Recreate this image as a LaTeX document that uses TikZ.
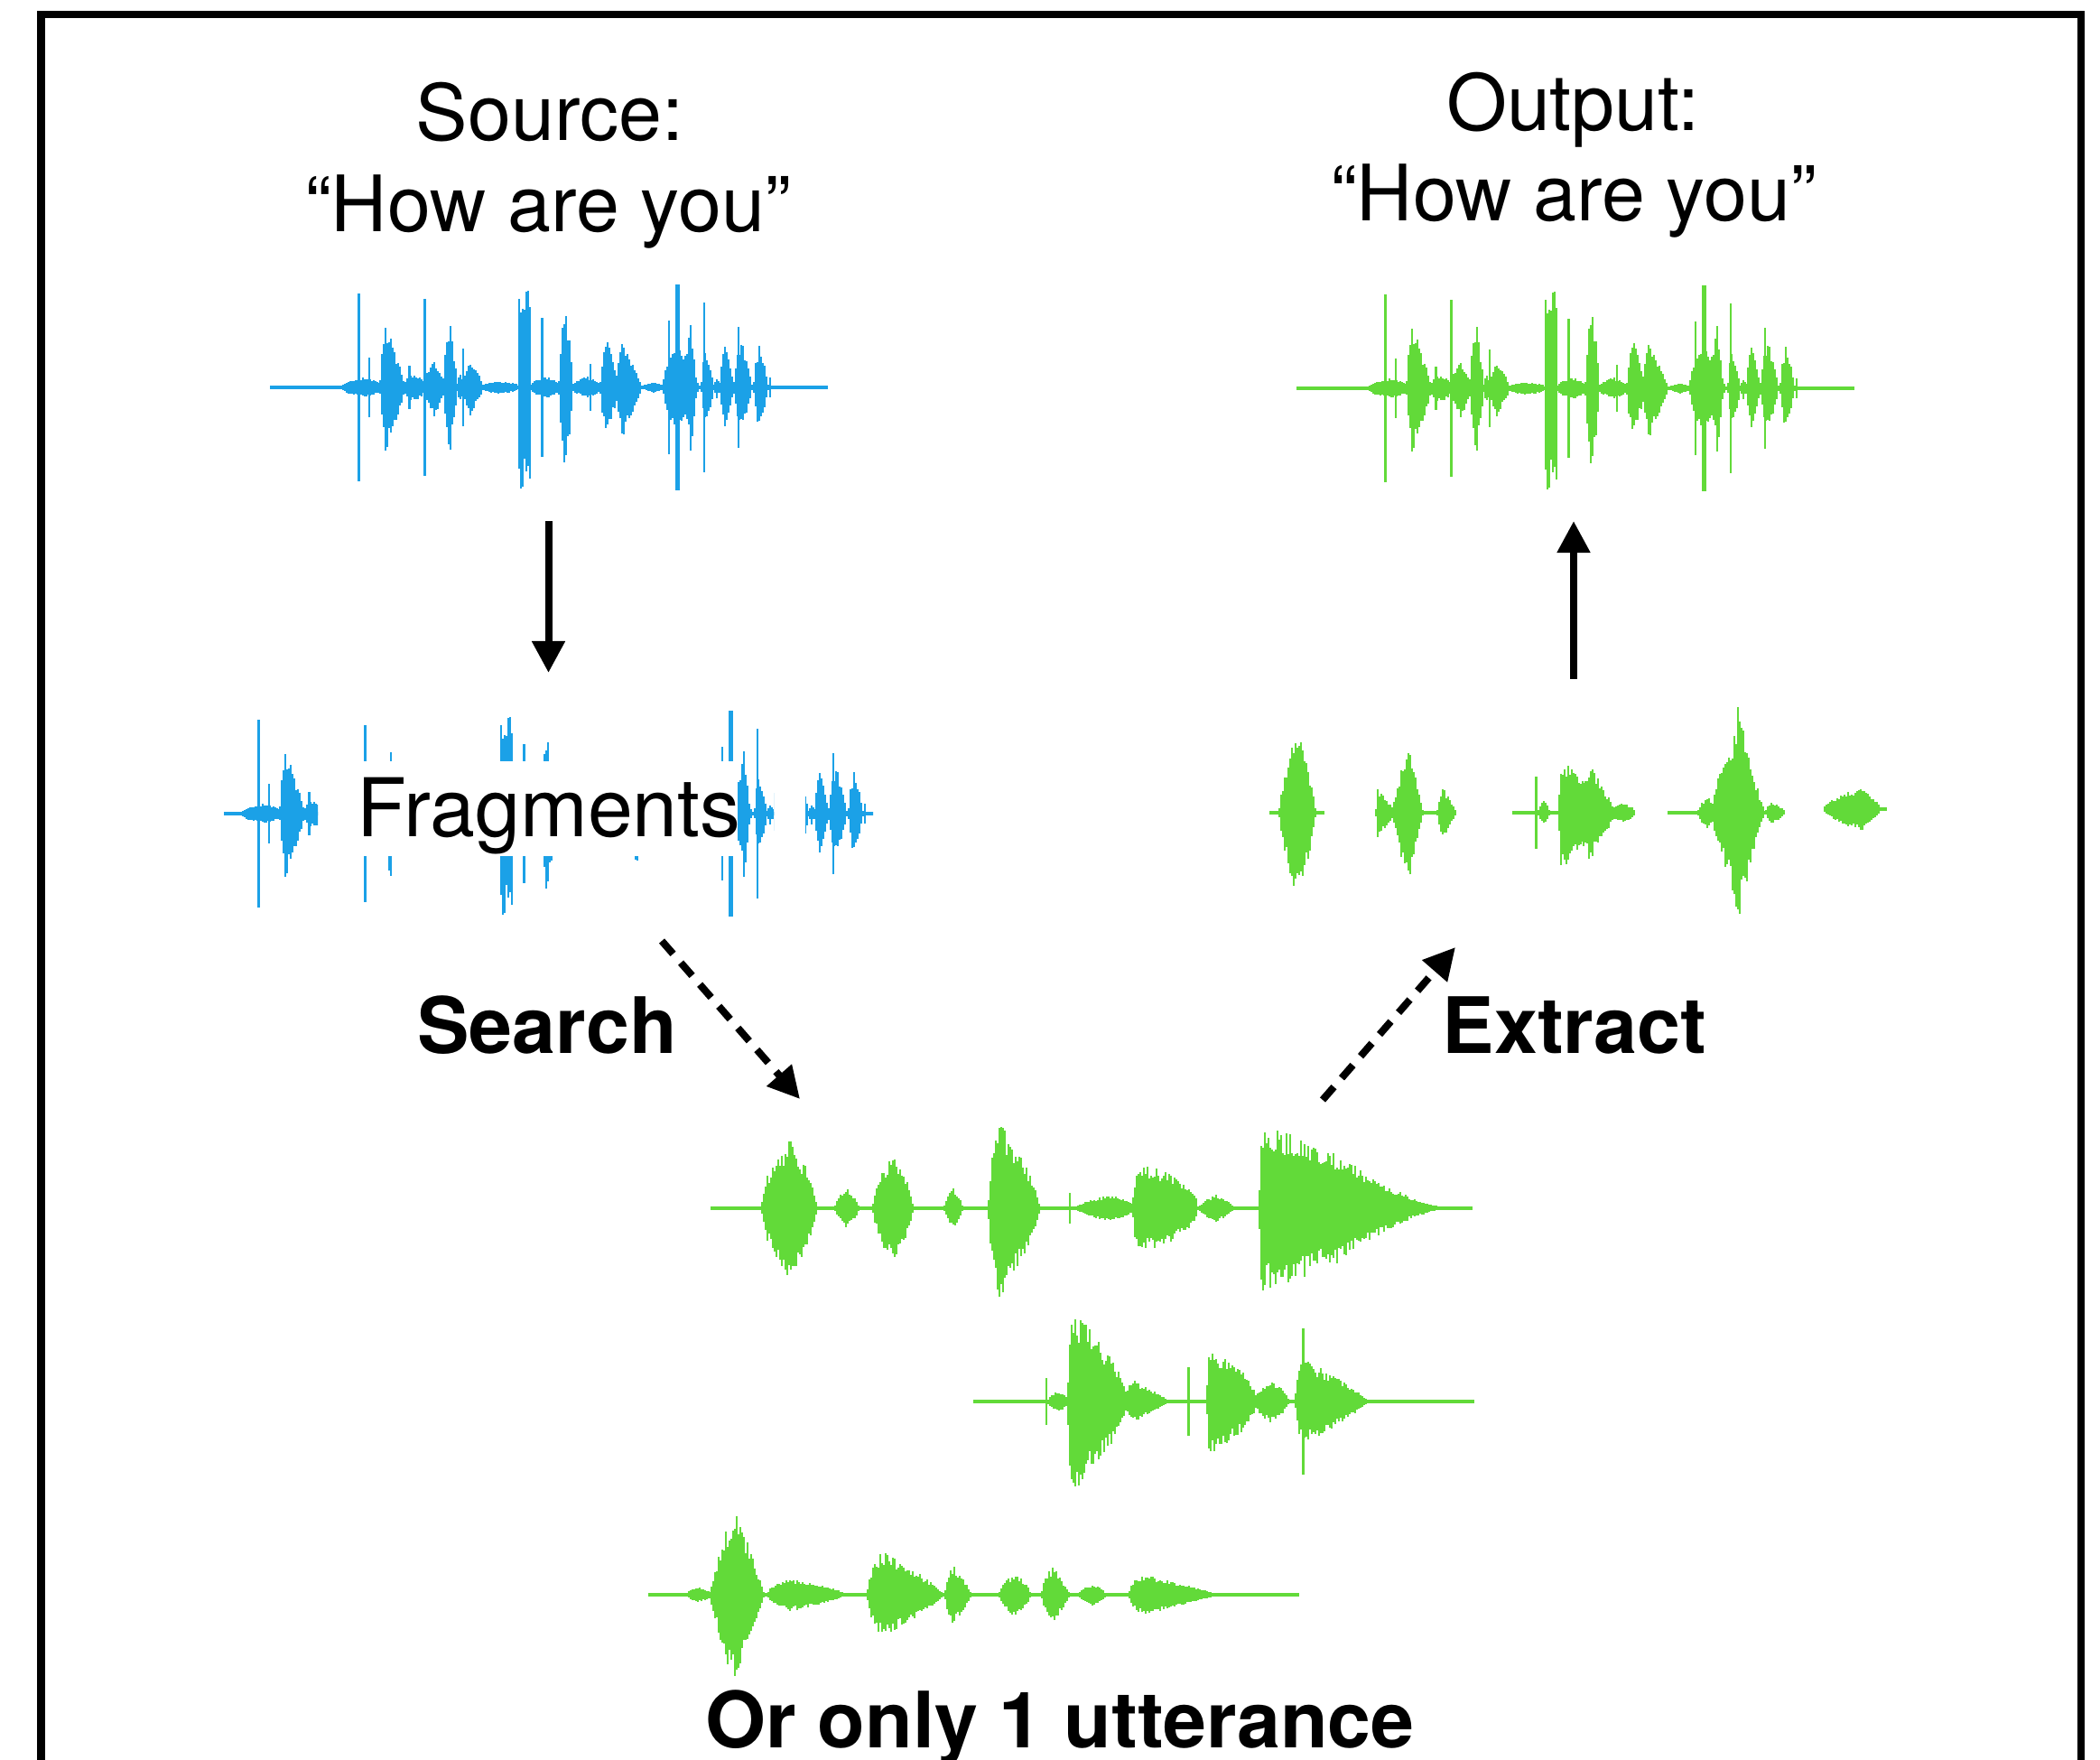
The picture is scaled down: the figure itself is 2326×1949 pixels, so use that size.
\documentclass[tikz,border=0pt]{standalone}
\usepackage{fontspec}
\setmainfont{TeX Gyre Heros}
\usetikzlibrary{arrows.meta}

\definecolor{waveblue}{RGB}{27,161,231}
\definecolor{wavegreen}{RGB}{98,218,57}

% flat noise floor of a waveform, from x #1 to x #2
\newcommand\wvline{\wvlinethick{2.3}}
\newcommand\wvlinethick[3]{\fill (#2,-#1) rectangle (#3,#1);}
% single thin peak: x, half height, width
\newcommand\wvspike[3]{\fill (#1,-#2) rectangle (#1+#3,#2);}
% burst of samples: x start, x end, peak position (0..1), half height,
% attack exponent, decay exponent
\newcommand\wvburst[6]{%
  \pgfmathtruncatemacro\wbn{max(1,(#2-#1)/2)}%
  \foreach \k in {0,...,\wbn}{%
    \pgfmathsetmacro\wbt{\k/\wbn}%
    \pgfmathsetmacro\wbe{\wbt<#3 ? pow(max(\wbt/#3,0.01),#5) : pow(max((1-\wbt)/(1-#3),0.01),#6)}%
    \pgfmathsetmacro\wbu{#4*\wbe*(0.68+0.34*rnd)+2}%
    \pgfmathsetmacro\wbd{#4*\wbe*(0.68+0.34*rnd)+2}%
    \fill (#1+2*\k,-\wbu) rectangle (#1+2*\k+2.4,\wbd);%
  }%
}

% the spoken sentence, drawn from local x = 0 on its centre line
\newcommand\sentencewave{%
  \pgfmathsetseed{7}%
  \wvline{0}{618}%
  \wvburst{80}{124}{0.5}{9}{0.5}{0.5}%
  \wvspike{97}{104}{3}%
  \wvspike{108.5}{33}{2}%
  \wvburst{121}{149}{0.22}{69}{0.5}{0.9}%
  \wvburst{147}{171}{0.5}{14}{0.5}{0.5}%
  \wvspike{153}{24}{2.5}%
  \wvspike{170}{98}{3}%
  \wvburst{171}{193}{0.4}{32}{0.5}{0.7}%
  \wvburst{191}{208}{0.45}{74}{0.5}{0.8}%
  \wvburst{206}{215}{0.5}{14}{0.5}{0.5}%
  \wvspike{213}{43}{2}%
  \wvburst{213}{235}{0.35}{30}{0.5}{0.8}%
  \wvburst{234}{274}{0.5}{5}{0.5}{0.5}%
  \wvburst{275}{288}{0.5}{113}{0.03}{0.03}%
  \wvburst{288}{320}{0.5}{10}{0.5}{0.5}%
  \wvspike{300}{77}{2.5}%
  \wvburst{319}{336}{0.45}{98}{0.6}{0.8}%
  \wvburst{335}{366}{0.5}{10}{0.5}{0.5}%
  \wvspike{354}{26}{2}%
  \wvburst{365}{385}{0.4}{52}{0.5}{0.8}%
  \wvburst{383}{412}{0.25}{53}{0.5}{1.0}%
  \wvburst{412}{436}{0.5}{4}{1}{1}%
  \wvburst{435}{473}{0.4}{50}{0.4}{0.6}%
  \wvspike{441}{74}{2}%
  \wvspike{449}{114}{5}%
  \wvburst{459}{472}{0.5}{68}{0.5}{0.5}%
  \wvspike{480}{94}{2}%
  \wvburst{477}{491}{0.3}{42}{0.5}{0.8}%
  \wvburst{490}{498}{0.5}{10}{1}{1}%
  \wvburst{497}{514}{0.4}{45}{0.5}{0.8}%
  \wvspike{518}{67}{2}%
  \wvburst{513}{534}{0.45}{50}{0.5}{0.8}%
  \wvburst{535}{551}{0.4}{47}{0.5}{0.8}%
  \wvspike{553}{11}{2}%
}

% one cut piece of the sentence: piece start, piece end, x shift
\newcommand\sentencepiece[3]{%
  \begin{scope}[shift={(#3,901)}]
    \clip (#1,-150) rectangle (#2,150);
    \sentencewave
  \end{scope}%
}

\begin{document}
\begin{tikzpicture}[x=0.01cm,y=-0.01cm,
    label/.style={inner sep=0pt, anchor=base, font=\fontsize{24.5pt}{30pt}\selectfont},
    boldlabel/.style={label, font=\fontsize{24.5pt}{30pt}\selectfont\bfseries},
    flow/.style={line width=0.08cm, -{Triangle[length=0.35cm,width=0.35cm]}},
    hop/.style={flow, dash pattern=on 0.19cm off 0.13cm},
    frame/.style={line width=0.08cm, line join=miter}]

\useasboundingbox (0,0) rectangle (2326,1949);
\fill[white] (0,0) rectangle (2326,1949);

% outer frame, open at the lower edge
\draw[frame] (45.5,1960) -- (45.5,16.5) -- (2304.5,16.5) -- (2304.5,1960);

% source sentence and its copy in the target voice
\begin{scope}[shift={(299,429)}, color=waveblue]
  \sentencewave
\end{scope}
\begin{scope}[shift={(1436,430)}, color=wavegreen]
  \sentencewave
\end{scope}

% the sentence cut into fragments
\begin{scope}[color=waveblue]
  \sentencepiece{60}{164}{188}
  \sentencepiece{155}{206}{233}
  \sentencepiece{270}{336}{279}
  \sentencepiece{350}{412}{314}
  \sentencepiece{436}{499}{358}
  \sentencepiece{488}{563}{404}
\end{scope}

% fragments extracted in the target voice
\begin{scope}[color=wavegreen, shift={(0,900)}]
  \pgfmathsetseed{21}
  \wvline{1406}{1467}
  \wvburst{1416}{1457}{0.5}{94}{0.7}{0.7}
  \wvline{1523}{1611}
  \wvburst{1523}{1543}{0.1}{25}{0.5}{0.8}
  \wvburst{1541}{1576}{0.5}{77}{0.9}{0.9}
  \wvburst{1591}{1611}{0.3}{26}{0.6}{0.8}
  \wvline{1675}{1810}
  \wvspike{1700}{40}{3}
  \wvburst{1703}{1716}{0.5}{12}{0.6}{0.6}
  \wvburst{1726}{1754}{0.08}{58}{0.2}{0.2}
  \wvburst{1745}{1787}{0.35}{50}{0.4}{0.8}
  \wvburst{1783}{1810}{0.5}{8}{0.4}{0.4}
  \wvline{1847}{1975}
  \wvburst{1880}{1900}{0.5}{16}{0.6}{0.6}
  \wvburst{1896}{1944}{0.5}{82}{0.6}{0.6}
  \wvburst{1900}{1955}{0.45}{121}{1.2}{1.2}
  \wvburst{1955}{1975}{0.3}{10}{0.6}{0.6}
\end{scope}
\begin{scope}[color=wavegreen, shift={(0,896)}]
  \pgfmathsetseed{22}
  \wvline{2020}{2090}
  \wvburst{2020}{2082}{0.65}{22}{0.6}{0.8}
\end{scope}

% candidate utterances of the target speaker
\begin{scope}[color=wavegreen, shift={(0,1338)}]
  \pgfmathsetseed{31}
  \wvline{787}{1631}
  \wvburst{843}{903}{0.5}{75}{0.55}{0.55}
  \wvspike{849}{36}{2}
  \wvburst{924}{950}{0.5}{20}{0.6}{0.6}
  \wvburst{966}{1010}{0.5}{61}{0.6}{0.6}
  \wvburst{1045}{1065}{0.5}{20}{0.6}{0.6}
  \wvburst{1094}{1150}{0.2}{97}{0.5}{0.7}
  \wvspike{1184}{17}{2}
  \wvburst{1193}{1256}{0.6}{13}{0.6}{0.6}
  \wvburst{1254}{1324}{0.12}{46}{0.3}{0.35}
  \wvburst{1328}{1365}{0.5}{13}{0.6}{0.6}
  \wvburst{1394}{1475}{0.04}{88}{0.3}{0.2}
  \wvburst{1460}{1595}{0.05}{68}{0.5}{1.4}
\end{scope}
\begin{scope}[color=wavegreen, shift={(0,1552)}]
  \pgfmathsetseed{32}
  \wvline{1078}{1633}
  \wvspike{1158}{26}{2}
  \wvburst{1160}{1182}{0.5}{10}{0.6}{0.6}
  \wvburst{1182}{1248}{0.1}{97}{0.3}{0.65}
  \wvburst{1244}{1292}{0.2}{22}{0.6}{0.9}
  \wvspike{1315}{38}{2.5}
  \wvburst{1336}{1390}{0.05}{57}{0.25}{0.5}
  \wvburst{1388}{1427}{0.5}{22}{0.6}{0.6}
  \wvspike{1442}{81}{3}
  \wvburst{1434}{1512}{0.1}{45}{0.4}{0.8}
\end{scope}
\begin{scope}[color=wavegreen, shift={(0,1766)}]
  \pgfmathsetseed{33}
  \wvline{718}{1439}
  \wvburst{760}{786}{0.5}{6}{0.6}{0.6}
  \wvburst{785}{846}{0.45}{97}{0.9}{0.9}
  \wvburst{850}{932}{0.3}{16}{0.5}{0.7}
  \wvburst{960}{1042}{0.2}{46}{0.5}{0.8}
  \wvburst{1046}{1074}{0.3}{31}{0.5}{0.8}
  \wvburst{1106}{1140}{0.5}{22}{0.6}{0.6}
  \wvburst{1153}{1184}{0.4}{29}{0.5}{0.8}
  \wvburst{1195}{1224}{0.5}{10}{0.6}{0.6}
  \wvburst{1250}{1342}{0.15}{21}{0.5}{0.9}
\end{scope}

% labels
\node[label] (srcLabel) at (609,156) {Source:};
\node[label] (srcText) at (607,257) {“How are you”};
\node[label] (outLabel) at (1742,145) {Output:};
\node[label] (outText) at (1743,245) {“How are you”};
\node[fill=white, inner sep=0pt, minimum width=4.29cm, minimum height=1.05cm] (fragBox) at (602.5,895.5) {};
\node[label, font=\fontsize{25.5pt}{30pt}\selectfont] (fragLabel) at (608,927) {Fragments};
\node[boldlabel] (searchLabel) at (606,1166) {Search};
\node[boldlabel] (extractLabel) at (1744,1166) {Extract};
\node[boldlabel] (singleLabel) at (1174,1935) {Or only 1 utterance};

% connector end points
\coordinate (cutFrom) at (607.5,577);
\coordinate (cutTo) at (607.5,745);
\coordinate (outFrom) at (1743,752);
\coordinate (outTo) at (1743,577);
\coordinate (searchFrom) at (733,1042);
\coordinate (searchTo) at (886,1217);
\coordinate (extractFrom) at (1465,1218);
\coordinate (extractTo) at (1612,1049);

\draw[flow] (cutFrom) -- (cutTo);
\draw[flow] (outFrom) -- (outTo);
\draw[hop] (searchFrom) -- (searchTo);
\draw[hop] (extractFrom) -- (extractTo);

\end{tikzpicture}
\end{document}
